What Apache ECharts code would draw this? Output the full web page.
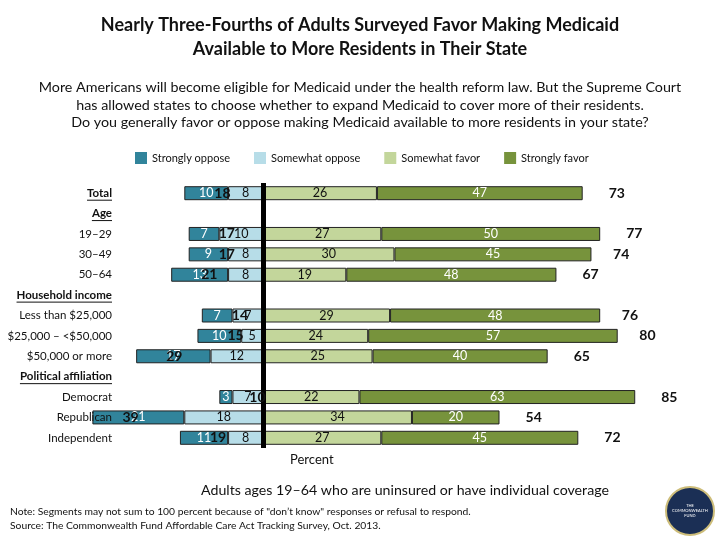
<!DOCTYPE html>
<html>
<head>
<meta charset="utf-8">
<script src="https://cdn.jsdelivr.net/npm/echarts@6/dist/echarts.min.js"></script>
<style>html,body{margin:0;padding:0;background:#fff}#c{width:720px;height:540px}</style>
</head>
<body>
<div id="c"></div>
<script>
const categories = ['Total','Age','19–29','30–49','50–64','Household income','Less than $25,000','$25,000 – <$50,000','$50,000 or more','Political affiliation','Democrat','Republican','Independent'];
const underlined = ['Total','Age','Household income','Political affiliation'];
const stronglyOppose = [10,null,7,9,13,null,7,10,17,null,3,21,11];
const somewhatOppose = [8,null,10,8,8,null,7,5,12,null,7,18,8];
const somewhatFavor  = [26,null,27,30,19,null,29,24,25,null,22,34,27];
const stronglyFavor  = [47,null,50,45,48,null,48,57,40,null,63,20,45];
const totalOppose    = [18,null,17,17,21,null,14,15,29,null,10,39,19];
const totalFavor     = [73,null,77,74,67,null,76,80,65,null,85,54,72];
const legendNames = ['Strongly oppose','Somewhat oppose','Somewhat favor','Strongly favor'];

const FONT = 'Lato, "Open Sans", sans-serif';
const neg = a => a.map(v => v == null ? null : -v);
const absFmt = p => (p.value == null ? '' : Math.abs(p.value));
const border = {borderColor:'#222', borderWidth:1};

const chart = echarts.init(document.getElementById('c'), null, {renderer:'canvas'});
const segLabel = (color) => ({show:true, position:'inside', formatter:absFmt, color:color, fontSize:12.5, fontFamily:FONT});

const option = {
  backgroundColor:'#fff',
  animation:false,
  textStyle:{fontFamily:FONT},
  title:[
    {text:'Nearly Three-Fourths of Adults Surveyed Favor Making Medicaid\nAvailable to More Residents in Their State', left:'center', top:8,
     textStyle:{fontSize:18, fontWeight:'bold', lineHeight:24, color:'#111', fontFamily:FONT}},
    {text:'More Americans will become eligible for Medicaid under the health reform law. But the Supreme Court\nhas allowed states to choose whether to expand Medicaid to cover more of their residents.\nDo you generally favor or oppose making Medicaid available to more residents in your state?',
     left:'center', top:74, textStyle:{fontSize:14.3, fontWeight:'normal', lineHeight:17.5, color:'#111', fontFamily:FONT}}
  ],
  legend:{data:legendNames, left:130, top:147, itemWidth:12, itemHeight:12, itemGap:24, icon:'rect',
    itemStyle:{borderWidth:0}, textStyle:{fontSize:11, color:'#111', fontFamily:FONT}},
  grid:{left:88, right:41, top:183, height:265, containLabel:false},
  xAxis:{type:'value', min:-40, max:95, show:false, splitLine:{show:false}},
  yAxis:{type:'category', data:categories, inverse:true, z:10,
    axisLine:{show:false}, axisTick:{show:false}, splitLine:{show:false},
    axisLabel:{margin:-24, fontSize:11.5, color:'#111', fontFamily:FONT,
      formatter: v => underlined.indexOf(v) >= 0 ? '{h|' + v + '}' : v,
      rich:{h:{fontSize:11.5, fontWeight:'bold', color:'#111', fontFamily:FONT}}}},
  series:[
    {name:'Somewhat oppose', type:'bar', stack:'a', barWidth:14, data:neg(somewhatOppose),
     itemStyle:{color:'#b7dde8', ...border}, label:segLabel('#111')},
    {name:'Strongly oppose', type:'bar', stack:'a', barWidth:14, data:neg(stronglyOppose),
     itemStyle:{color:'#31849b', ...border}, label:segLabel('#fff'),
     markLine:{silent:true, symbol:'none', label:{show:false}, data:[{xAxis:0}],
       lineStyle:{color:'#000', width:5, type:'solid'}}},
    {name:'Somewhat favor', type:'bar', stack:'a', barWidth:14, data:somewhatFavor,
     itemStyle:{color:'#c3d69b', ...border}, label:segLabel('#111')},
    {name:'Strongly favor', type:'bar', stack:'a', barWidth:14, data:stronglyFavor,
     itemStyle:{color:'#77933c', ...border}, label:segLabel('#fff')},
    {name:'oppTotal', type:'bar', stack:'t', barWidth:14, barGap:'-100%', silent:true, data:neg(totalOppose),
     itemStyle:{color:'rgba(0,0,0,0)'}, z:5,
     label:{show:true, position:'insideLeft', distance:30, formatter:absFmt, fontSize:14, fontWeight:'bold', color:'#111', fontFamily:FONT}},
    {name:'favTotal', type:'bar', stack:'t', barWidth:14, barGap:'-100%', silent:true, data:totalFavor,
     itemStyle:{color:'rgba(0,0,0,0)'}, z:5,
     label:{show:true, position:'right', distance:26, formatter:absFmt, fontSize:14, fontWeight:'bold', color:'#111', fontFamily:FONT}}
  ],
  graphic:[
    {type:'text', left:290, top:453, style:{text:'Percent', font:'13px ' + FONT, fill:'#111'}},
    {type:'text', left:201, top:483, style:{text:'Adults ages 19–64 who are uninsured or have individual coverage', font:'14.2px ' + FONT, fill:'#111'}},
    {type:'text', left:10, top:507, style:{text:'Note: Segments may not sum to 100 percent because of "don\u2019t know" responses or refusal to respond.', font:'10.3px ' + FONT, fill:'#111'}},
    {type:'text', left:10, top:521, style:{text:'Source: The Commonwealth Fund Affordable Care Act Tracking Survey, Oct. 2013.', font:'10.3px ' + FONT, fill:'#111'}},
    {type:'circle', shape:{cx:690, cy:511, r:24}, style:{fill:'#1b2f55', stroke:'#cdbd7a', lineWidth:2}},
    {type:'text', x:690, y:511, style:{text:'THE\nCOMMONWEALTH\nFUND', font:'4px ' + FONT, fill:'#fff', align:'center', verticalAlign:'middle', lineHeight:5}}
  ]
};
chart.setOption(option);

// underline header labels using axis positions
const ctx = document.createElement('canvas').getContext('2d');
ctx.font = 'bold 11.5px ' + FONT;
const lines = underlined.map(name => {
  const y = chart.convertToPixel({yAxisIndex:0}, name);
  const w = ctx.measureText(name).width;
  const xr = 88 + 24;
  return {type:'line', shape:{x1:xr - w, y1:y + 7, x2:xr, y2:y + 7}, style:{stroke:'#111', lineWidth:1}, z:20};
});
chart.setOption({graphic:option.graphic.concat(lines)});
</script>
</body>
</html>
